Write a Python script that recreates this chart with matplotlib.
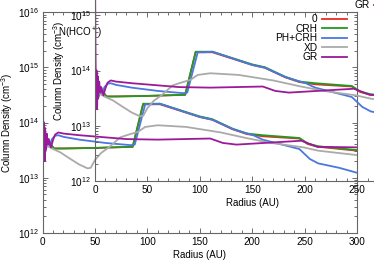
import matplotlib
matplotlib.use("Agg")
import matplotlib.pyplot as plt
import numpy as np
from matplotlib.ticker import MultipleLocator, LogLocator

plt.rcParams["font.family"] = ["Liberation Sans", "DejaVu Sans"]
plt.rcParams["mathtext.default"] = "regular"

# radius (AU) / log10 column density
r_zero = [0, 2, 4, 5, 8, 11, 20, 50, 86, 96, 112, 150, 162, 181, 195, 210, 245, 253, 263, 300]
n_zero = [13.55, 13.50, 13.65, 13.70, 13.60, 13.53, 13.53, 13.54, 13.56, 14.33, 14.33, 14.10, 14.05, 13.88, 13.79, 13.75, 13.71, 13.61, 13.56, 13.49]

r_crh = [0, 2, 4, 5, 8, 11, 20, 50, 86, 96, 112, 150, 162, 181, 195, 210, 245, 253, 263, 300]
n_crh = [13.55, 13.50, 13.65, 13.70, 13.60, 13.53, 13.53, 13.54, 13.56, 14.34, 14.34, 14.11, 14.06, 13.89, 13.80, 13.77, 13.72, 13.62, 13.57, 13.50]

r_ph = [0, 1, 2, 3, 5, 7, 9, 12, 15, 20, 35, 60, 84, 88, 98, 104, 112, 150, 162, 183, 201, 210, 245, 255, 263, 283, 300]
n_ph = [13.55, 13.45, 13.60, 13.50, 13.62, 13.58, 13.70, 13.76, 13.77, 13.74, 13.69, 13.63, 13.59, 13.60, 14.33, 14.33, 14.34, 14.10, 14.05, 13.87, 13.77, 13.69, 13.52, 13.34, 13.26, 13.18, 13.09]

r_xd = [0, 2, 5, 10, 17, 25, 35, 43, 46, 50, 56, 64, 74, 82, 91, 98, 110, 137, 170, 194, 218, 249, 263, 300]
n_xd = [13.62, 13.60, 13.57, 13.52, 13.46, 13.36, 13.24, 13.17, 13.18, 13.32, 13.45, 13.56, 13.73, 13.78, 13.83, 13.92, 13.95, 13.92, 13.82, 13.72, 13.63, 13.55, 13.49, 13.41]

r_gr = [0, 0.5, 1, 1.5, 2, 2.5, 3, 4, 5, 6, 8, 10, 12, 15, 20, 35, 80, 110, 160, 172, 185, 247, 262, 300]
n_gr = [15.0, 14.3, 13.4, 14.0, 13.3, 13.9, 13.5, 13.8, 13.6, 13.7, 13.55, 13.68, 13.78, 13.82, 13.80, 13.77, 13.70, 13.69, 13.71, 13.63, 13.60, 13.67, 13.56, 13.55]
n_gr_top = 15.8   # the second panel's GR starts higher

models = ["0", "CRH", "PH+CRH", "XD", "GR"]
colors = ["#ee2a22", "#229a22", "#4a78e0", "#aaaaaa", "#9a1a9a"]

W, H = 374, 262


def box(left, right, top, bottom):
    return [left / W, 1 - bottom / H, (right - left) / W, (bottom - top) / H]


def draw(ax, gr_values):
    series = [(r_zero, n_zero), (r_crh, n_crh), (r_ph, n_ph), (r_xd, n_xd), (r_gr, gr_values)]
    for (r, n), name, c in zip(series, models, colors):
        ax.plot(r, 10 ** np.array(n), color=c, lw=1.3, label=name)

    ax.set_yscale("log")
    ax.set_xlim(0, 300)
    ax.set_ylim(1e12, 1e16)
    ax.xaxis.set_major_locator(MultipleLocator(50))
    ax.xaxis.set_minor_locator(MultipleLocator(10))
    ax.yaxis.set_major_locator(LogLocator(base=10, numticks=10))
    ax.yaxis.set_minor_locator(LogLocator(base=10, subs=np.arange(2, 10), numticks=10))
    ax.tick_params(which="both", direction="in", top=True, right=True,
                   color="#555555", width=0.6, labelsize=7.2, pad=3)
    ax.tick_params(which="major", length=3.5)
    ax.tick_params(which="minor", length=2)
    for s in ax.spines.values():
        s.set_color("#666666")
        s.set_linewidth(0.8)

    ax.set_xlabel("Radius (AU)", fontsize=7, labelpad=2)
    ax.set_ylabel("Column Density (cm$^{-3}$)", fontsize=7, labelpad=2)
    ax.text(0.048, 0.905, "N(HCO$^+$)", transform=ax.transAxes, fontsize=7, va="center")

    ax.legend(loc="upper right", bbox_to_anchor=(0.968, 0.99), frameon=False,
              markerfirst=False, fontsize=7.3, handlelength=2.5, handletextpad=0.4,
              labelspacing=-0.05, borderpad=0, borderaxespad=0)


fig = plt.figure(figsize=(W / 100, H / 100), dpi=100)

ax1 = fig.add_axes(box(42.5, 357, 12, 233))
draw(ax1, n_gr)

# second panel sits on top of the first one, shifted right and up
ax2 = fig.add_axes(box(95, 409.5, -40, 181))
ax2.set_facecolor("none")
draw(ax2, [n_gr_top] + n_gr[1:])

fig.savefig("out.png", dpi=100)
